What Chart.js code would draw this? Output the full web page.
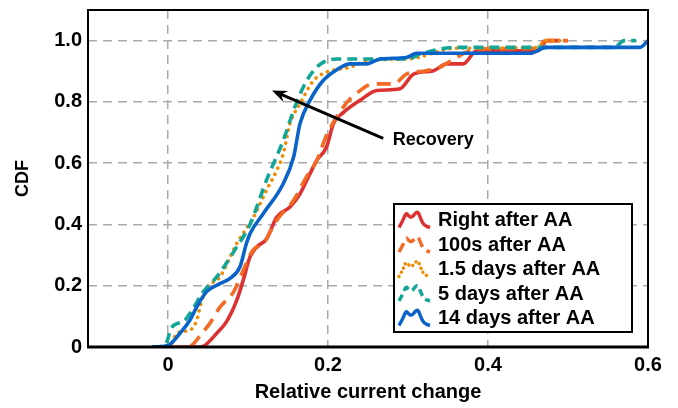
<!DOCTYPE html>
<html>
<head>
<meta charset="utf-8">
<script src="https://cdn.jsdelivr.net/npm/chart.js@4.4.0/dist/chart.umd.min.js"></script>
<style>
  html, body { margin: 0; padding: 0; background: #fff; }
</style>
</head>
<body>
<canvas id="cdfChart" width="678" height="408"></canvas>
<script>
// series labels
const seriesNames = ['Right after AA', '100s after AA', '1.5 days after AA', '5 days after AA', '14 days after AA'];

// CDF curves, x = relative current change, y = cumulative fraction
const rightX = [0.00, 0.040, 0.046, 0.061, 0.073, 0.086, 0.094, 0.1025, 0.111, 0.123, 0.136, 0.1525, 0.165, 0.1775, 0.186, 0.198, 0.207, 0.219, 0.240, 0.261, 0.290, 0.307, 0.332, 0.348, 0.369, 0.386, 0.462, 0.474, 0.490];
const rightY = [0, 0, 0.005, 0.045, 0.082, 0.153, 0.218, 0.294, 0.327, 0.352, 0.424, 0.457, 0.500, 0.566, 0.609, 0.652, 0.730, 0.765, 0.805, 0.837, 0.843, 0.891, 0.902, 0.924, 0.924, 0.967, 0.967, 1.0, 1.0];

const s100X = [0.000, 0.025, 0.044, 0.0525, 0.065, 0.082, 0.094, 0.106, 0.119, 0.136, 0.157, 0.173, 0.186, 0.198, 0.219, 0.240, 0.257, 0.282, 0.298, 0.323, 0.340, 0.361, 0.386, 0.460, 0.472, 0.500];
const s100Y = [0, 0, 0.05, 0.078, 0.13, 0.18, 0.25, 0.316, 0.338, 0.414, 0.479, 0.555, 0.609, 0.69, 0.783, 0.837, 0.859, 0.859, 0.891, 0.902, 0.913, 0.946, 0.973, 0.975, 1.0, 1.0];

const d15X = [-0.010, 0.004, 0.011, 0.0275, 0.036, 0.041, 0.048, 0.065, 0.086, 0.107, 0.123, 0.136, 0.144, 0.1525, 0.165, 0.182, 0.198, 0.2275, 0.250, 0.300, 0.360, 0.462, 0.472, 0.490];
const d15Y = [0, 0.01, 0.045, 0.055, 0.088, 0.14, 0.19, 0.229, 0.338, 0.424, 0.511, 0.577, 0.63, 0.729, 0.794, 0.87, 0.897, 0.913, 0.935, 0.94, 0.975, 0.978, 1.0, 1.0];

const d5X = [-0.020, -0.004, 0.005, 0.020, 0.030, 0.044, 0.061, 0.086, 0.1025, 0.123, 0.144, 0.157, 0.169, 0.182, 0.194, 0.211, 0.300, 0.315, 0.360, 0.558, 0.570, 0.585];
const d5Y = [0, 0.005, 0.065, 0.085, 0.12, 0.18, 0.229, 0.327, 0.40, 0.544, 0.674, 0.772, 0.848, 0.902, 0.929, 0.94, 0.94, 0.956, 0.978, 0.978, 1.0, 1.0];

const d14X = [-0.020, 0.000, 0.015, 0.0275, 0.036, 0.048, 0.065, 0.0775, 0.090, 0.098, 0.1025, 0.119, 0.144, 0.157, 0.165, 0.1775, 0.194, 0.211, 0.2275, 0.248, 0.265, 0.298, 0.311, 0.4525, 0.473, 0.590, 0.600];
const d14Y = [0, 0.005, 0.045, 0.088, 0.131, 0.18, 0.207, 0.224, 0.262, 0.338, 0.37, 0.435, 0.533, 0.62, 0.729, 0.805, 0.87, 0.905, 0.924, 0.924, 0.94, 0.945, 0.959, 0.959, 0.978, 0.978, 1.0];

// axis ticks
const xTickValues = [0, 0.2, 0.4, 0.6];
const xTickLabels = ['0', '0.2', '0.4', '0.6'];
const yTickValues = [0, 0.2, 0.4, 0.6, 0.8, 1.0];
const yTickLabels = ['0', '0.2', '0.4', '0.6', '0.8', '1.0'];

const FONT = '"Liberation Sans", Arial, Helvetica, sans-serif';

const toPoints = (xs, ys) => xs.map((x, i) => ({ x: x, y: ys[i] }));

const styles = [
    { color: '#dc3232', dash: [], cap: 'butt', order: 4 },
    { color: '#f26a24', dash: [14, 8], cap: 'butt', order: 3 },
    { color: '#ef8c05', dash: [0.1, 6.5], cap: 'round', order: 2 },
    { color: '#13a596', dash: [10, 6], cap: 'butt', order: 1 },
    { color: '#0a63c8', dash: [], cap: 'butt', order: 0 }
];

const allX = [rightX, s100X, d15X, d5X, d14X];
const allY = [rightY, s100Y, d15Y, d5Y, d14Y];

const datasets = seriesNames.map((name, i) => ({
    label: name,
    data: toPoints(allX[i], allY[i]),
    borderColor: styles[i].color,
    borderWidth: 3.6,
    borderDash: styles[i].dash,
    borderCapStyle: styles[i].cap,
    borderJoinStyle: 'round',
    cubicInterpolationMode: 'monotone',
    pointRadius: 0,
    fill: false,
    order: styles[i].order
}));

// small wavy icon for the legend rows
function drawIcon(ctx, x0, yc, st) {
    const pts = [[0, 8], [4, 1], [7, -7], [10, -3], [13, -2], [16, -6], [19, -8], [22, 0], [25, 6], [31, 8]];
    ctx.save();
    ctx.strokeStyle = st.color;
    ctx.lineWidth = 3.5;
    ctx.lineCap = st.cap === 'round' ? 'round' : 'butt';
    ctx.lineJoin = 'round';
    ctx.setLineDash(st.dash.length ? st.dash.map(d => d * 0.7) : []);
    ctx.beginPath();
    ctx.moveTo(x0 + pts[0][0], yc + pts[0][1]);
    for (let i = 1; i < pts.length - 1; i++) {
        const mx = (pts[i][0] + pts[i + 1][0]) / 2;
        const my = (pts[i][1] + pts[i + 1][1]) / 2;
        ctx.quadraticCurveTo(x0 + pts[i][0], yc + pts[i][1], x0 + mx, yc + my);
    }
    const last = pts[pts.length - 1];
    ctx.lineTo(x0 + last[0], yc + last[1]);
    ctx.stroke();
    ctx.restore();
}

const framePlugin = {
    id: 'frameAndNotes',
    afterDatasetsDraw(chart) {
        const { ctx, chartArea: a, scales } = chart;
        ctx.save();
        // plot frame
        ctx.strokeStyle = '#000';
        ctx.lineWidth = 2;
        ctx.strokeRect(a.left, a.top, a.right - a.left, a.bottom - a.top);
        ctx.lineWidth = 3;
        ctx.beginPath();
        ctx.moveTo(a.left - 1, a.bottom);
        ctx.lineTo(a.right + 1, a.bottom);
        ctx.stroke();

        // "Recovery" arrow
        const tx = scales.x.getPixelForValue(0.269), ty = scales.y.getPixelForValue(0.681);
        const hx = scales.x.getPixelForValue(0.130), hy = scales.y.getPixelForValue(0.837);
        const ang = Math.atan2(hy - ty, hx - tx);
        ctx.lineWidth = 3;
        ctx.beginPath();
        ctx.moveTo(tx, ty);
        ctx.lineTo(hx - 8 * Math.cos(ang), hy - 8 * Math.sin(ang));
        ctx.stroke();
        ctx.fillStyle = '#000';
        ctx.beginPath();
        ctx.moveTo(hx, hy);
        ctx.lineTo(hx - 15 * Math.cos(ang) + 6 * Math.sin(ang), hy - 15 * Math.sin(ang) - 6 * Math.cos(ang));
        ctx.lineTo(hx - 10 * Math.cos(ang), hy - 10 * Math.sin(ang));
        ctx.lineTo(hx - 15 * Math.cos(ang) - 6 * Math.sin(ang), hy - 15 * Math.sin(ang) + 6 * Math.cos(ang));
        ctx.closePath();
        ctx.fill();

        ctx.font = 'bold 18px ' + FONT;
        ctx.textAlign = 'left';
        ctx.textBaseline = 'middle';
        ctx.fillText('Recovery', scales.x.getPixelForValue(0.281), scales.y.getPixelForValue(0.676));
        ctx.restore();
    },
    afterDraw(chart) {
        const { ctx } = chart;
        // legend box in the lower right of the plot
        const bx = 394, by = 204, bw = 238, bh = 128;
        ctx.save();
        ctx.fillStyle = '#fff';
        ctx.fillRect(bx, by, bw, bh);
        ctx.strokeStyle = '#000';
        ctx.lineWidth = 2;
        ctx.strokeRect(bx, by, bw, bh);
        ctx.font = 'bold 20px ' + FONT;
        ctx.fillStyle = '#000';
        ctx.textAlign = 'left';
        ctx.textBaseline = 'middle';
        seriesNames.forEach((name, i) => {
            const yc = by + 15.5 + i * 24.5;
            drawIcon(ctx, 399, yc, styles[i]);
            ctx.fillText(name, 438, yc + 1);
        });
        ctx.restore();
    }
};

new Chart(document.getElementById('cdfChart').getContext('2d'), {
    type: 'line',
    data: { datasets: datasets },
    options: {
        responsive: false,
        animation: false,
        layout: { padding: { top: 10, right: 30, left: 0, bottom: 0 } },
        plugins: {
            legend: { display: false },
            tooltip: { enabled: false }
        },
        scales: {
            x: {
                type: 'linear',
                min: -0.1,
                max: 0.6,
                afterBuildTicks: (s) => { s.ticks = xTickValues.map(v => ({ value: v })); },
                afterFit: (s) => { s.height = 61; },
                ticks: {
                    callback: (v, i) => xTickLabels[i],
                    color: '#000',
                    font: { family: FONT, size: 20, weight: 'bold' },
                    padding: 6,
                    maxRotation: 0
                },
                grid: { color: '#aaaaaa', lineWidth: 1.5, drawTicks: false },
                border: { display: false, dash: [9, 6] },
                title: {
                    display: true,
                    text: 'Relative current change',
                    color: '#000',
                    font: { family: FONT, size: 20, weight: 'bold' },
                    padding: { top: 0, bottom: 4 }
                }
            },
            y: {
                min: 0,
                max: 1.1,
                afterBuildTicks: (s) => { s.ticks = yTickValues.map(v => ({ value: v })); },
                afterFit: (s) => { s.width = 88; s.paddingTop = 0; },
                ticks: {
                    callback: (v, i) => yTickLabels[i],
                    color: '#000',
                    font: { family: FONT, size: 20, weight: 'bold' },
                    padding: 6
                },
                grid: { color: '#aaaaaa', lineWidth: 1.5, drawTicks: false },
                border: { display: false, dash: [9, 6] },
                title: {
                    display: true,
                    text: 'CDF',
                    color: '#000',
                    font: { family: FONT, size: 18, weight: 'bold' },
                    padding: { top: 12, bottom: 0 }
                }
            }
        }
    },
    plugins: [framePlugin]
});
</script>
</body>
</html>
